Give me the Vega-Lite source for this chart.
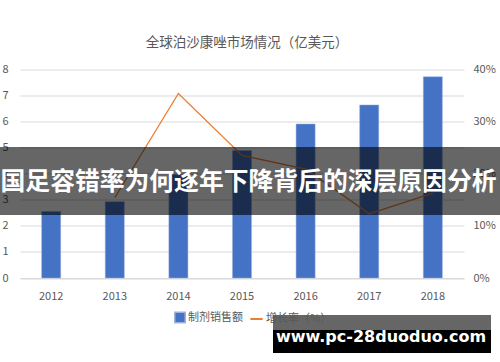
{
  "$schema": "https://vega.github.io/schema/vega-lite/v6.json",
  "width": 444,
  "height": 208.5,
  "autosize": {"type": "none"},
  "padding": {"left": 20, "top": 69.5, "right": 36, "bottom": 84},
  "background": "white",
  "title": {"text": "全球泊沙康唑市场情况（亿美元）", "fontSize": 13.5, "font": "Noto Sans CJK SC", "fontWeight": "normal", "color": "#595959", "offset": 14, "dx": 5},
  "config": {
    "view": {"stroke": null},
    "font": "Noto Sans CJK SC",
    "axis": {"labelFont": "Noto Sans CJK SC", "labelFontSize": 11, "labelColor": "#595959", "title": null, "ticks": false, "domain": false, "gridColor": "#D9D9D9", "labelOverlap": false},
    "legend": {"labelFont": "Noto Sans CJK SC", "labelFontSize": 11, "labelColor": "#595959", "title": null}
  },
  "data": {"values": [
    {"year": "2012", "sales": 2.55, "growth": null},
    {"year": "2013", "sales": 2.93, "growth": 0.154},
    {"year": "2014", "sales": 3.97, "growth": 0.354},
    {"year": "2015", "sales": 4.89, "growth": 0.235},
    {"year": "2016", "sales": 5.91, "growth": 0.209},
    {"year": "2017", "sales": 6.64, "growth": 0.123},
    {"year": "2018", "sales": 7.72, "growth": 0.163}
  ]},
  "encoding": {
    "x": {"field": "year", "type": "nominal", "scale": {"paddingInner": 0.7, "paddingOuter": 0.34}, "axis": {"labelAngle": 0, "labelPadding": 12, "domain": true, "domainColor": "#D9D9D9", "grid": false}}
  },
  "layer": [
    {
      "mark": {"type": "bar", "stroke": "#9DB3DE", "strokeWidth": 0.5},
      "encoding": {
        "y": {"field": "sales", "type": "quantitative", "scale": {"domain": [0, 8]}, "axis": {"values": [0, 1, 2, 3, 4, 5, 6, 7, 8], "grid": true, "labelAlign": "left", "labelPadding": 18}},
        "color": {"datum": "制剂销售额", "scale": {"range": ["#4472C4"]}, "legend": {"orient": "none", "legendX": 154, "legendY": 242, "symbolType": "square", "symbolSize": 110, "labelOffset": 2}}
      }
    },
    {
      "mark": {"type": "line", "strokeWidth": 1.3},
      "encoding": {
        "y": {"field": "growth", "type": "quantitative", "scale": {"domain": [0, 0.4]}, "axis": {"orient": "right", "format": "%", "values": [0, 0.1, 0.2, 0.3, 0.4], "grid": false, "labelPadding": 9}},
        "stroke": {"datum": "增长率（%）", "scale": {"range": ["#ED7D31"]}, "legend": {"orient": "none", "legendX": 229, "legendY": 242, "symbolType": "stroke", "symbolStrokeWidth": 2, "symbolSize": 150, "labelOffset": 2}}
      }
    },
    {
      "data": {"values": [{"label": "国足容错率为何逐年下降背后的深层原因分析"}]},
      "layer": [
        {"mark": {"type": "rect", "color": "black", "opacity": 0.6}, "encoding": {"x": {"value": -20}, "x2": {"value": 480}, "y": {"value": 77.5}, "y2": {"value": 145.5}}},
        {"mark": {"type": "text", "color": "white", "fontSize": 24.8, "fontWeight": "bold", "font": "Noto Sans CJK SC", "baseline": "middle", "align": "center"}, "encoding": {"text": {"field": "label"}, "x": {"value": 228.5}, "y": {"value": 113.5}}}
      ]
    },
    {
      "data": {"values": [{"label": "www.pc-28duoduo.com"}]},
      "layer": [
        {"mark": {"type": "rect", "color": "black", "opacity": 0.6}, "encoding": {"x": {"value": 253}, "x2": {"value": 471}, "y": {"value": 245.5}, "y2": {"value": 260.5}}},
        {"mark": {"type": "rect", "color": "black", "opacity": 1}, "encoding": {"x": {"value": 253}, "x2": {"value": 471}, "y": {"value": 260.5}, "y2": {"value": 283.5}}},
        {"mark": {"type": "text", "color": "white", "fontSize": 16, "fontWeight": "bold", "font": "DejaVu Sans", "baseline": "middle", "align": "center"}, "encoding": {"text": {"field": "label"}, "x": {"value": 361}, "y": {"value": 267.5}}}
      ]
    }
  ],
  "resolve": {"scale": {"y": "independent"}}
}
